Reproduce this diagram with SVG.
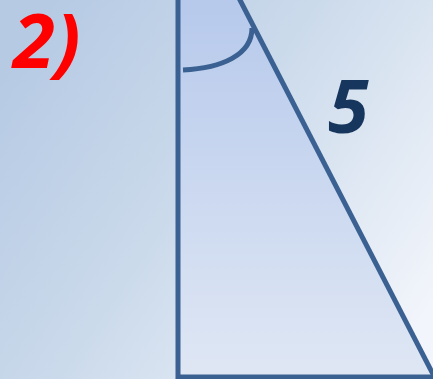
<svg xmlns="http://www.w3.org/2000/svg" width="433" height="379" viewBox="0 0 433 379">
<defs>
<linearGradient id="bg" x1="0" y1="0.2" x2="1" y2="0.8">
<stop offset="0" stop-color="#b6cae4"/>
<stop offset="0.45" stop-color="#cbdaeb"/>
<stop offset="1" stop-color="#f2f5fb"/>
</linearGradient>
<linearGradient id="tri" x1="0" y1="0" x2="0" y2="1">
<stop offset="0" stop-color="#aac0e9"/>
<stop offset="1" stop-color="#dfe7f4"/>
</linearGradient>
<style>
.ln{fill:none;stroke:#3a6191;stroke-width:5;stroke-linejoin:miter}
.lbl{font-family:"Open Sans","Liberation Sans",sans-serif;font-weight:bold;font-style:italic}
</style>
</defs>
<rect width="433" height="379" fill="url(#bg)"/>
<g id="triangle">
<polygon points="178,-120 178,377 434.5,377" fill="url(#tri)"/>
<polyline class="ln" points="178,-5 178,377 434.5,377"/>
<line class="ln" x1="237.4" y1="-5" x2="435" y2="378"/>
</g>
<g id="angle">
<path class="ln" d="M183,70 C222,68 252,55 252,28" stroke-width="4.5"/>
</g>
<g id="labels">
<text class="lbl" x="13" y="68" font-size="76" fill="#ff0000">2)</text>
<text class="lbl" x="328" y="133" font-size="74" fill="#17365d">5</text>
</g>
</svg>
